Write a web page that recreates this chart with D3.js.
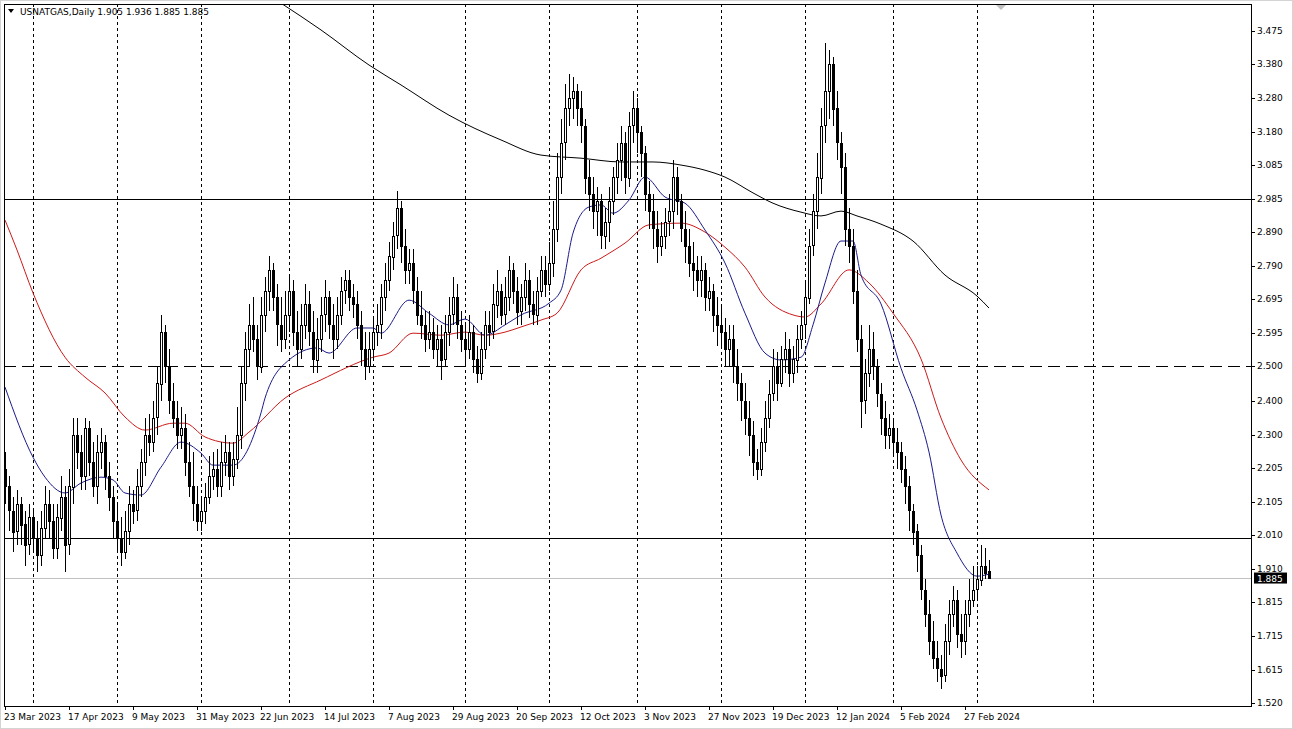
<!DOCTYPE html>
<html><head><meta charset="utf-8">
<script src="https://cdn.jsdelivr.net/npm/d3@7"></script>
<style>
body{margin:0;background:#fff;}
text{font-family:Tahoma,"DejaVu Sans",sans-serif;font-size:9px;fill:#000;}
</style></head>
<body><svg id="chart" width="1293" height="729"></svg>
<script>
// daily candles, one per trading day from 23 Mar 2023 to 7 Mar 2024
var opens = [2.20,2.15,2.08,2.02,2.10,2.04,1.98,2.06,2.00,1.95,2.03,2.10,2.05,1.97,2.06,2.12,
1.98,2.15,2.30,2.25,2.18,2.32,2.22,2.15,2.25,2.28,2.18, 2.12,2.05,2.00,1.96,
2.02,2.10,2.08,2.15,2.22,2.30,2.28,2.35,2.45, 2.60,2.50,2.40,2.35,2.30,2.32,2.22,2.15,2.10,2.05,
2.08,2.12,2.18,2.20,2.15,2.22,2.25,2.18,2.23, 2.30,2.45,2.55,2.62,2.58,2.50,2.65,2.72,
2.78,2.70,2.62,2.58,2.65,2.72,2.60,2.55,2.62,2.68,2.60,2.52,2.58,2.65,2.70,
2.62,2.58,2.65,2.72,2.75,2.70,2.68,2.62,2.55,2.50, 2.55,2.60,2.62,2.70,2.75,2.82,2.88,
2.96,2.85,2.78,2.80,2.72,2.65,2.62,2.58,2.60,2.55, 2.58,2.52,2.60,2.65,2.70,2.62,2.58,2.55,2.60,2.52,
2.48,2.55,2.62,2.60,2.68,2.72,2.65,2.70,2.78,2.72,2.66,2.70,2.75,2.68,2.65,2.72,2.78,2.74,
2.80,2.90,3.05,3.15,3.25,3.28,3.30, 3.25,3.20,3.05,3.00,2.95,2.98,2.88,2.92,
2.98,3.05,3.10,3.15,3.05,3.20,3.25, 3.18,3.12,3.00,2.95,2.90,2.85,2.88,2.92,
2.95,3.05,2.98,2.90,2.85,2.80,2.78, 2.75,2.78,2.70,2.72,2.65,2.62,2.60,2.55,2.58,2.50,
2.45,2.40,2.35,2.30,2.22,2.20,2.28, 2.35,2.42,2.50,2.45,2.52,2.55,2.48,2.52,2.58,
2.62,2.70,2.85,2.95,3.05,3.20,3.30,3.38, 3.25,3.15,3.08,2.90,2.85,2.72, 2.58,2.40,2.48,2.55,
2.50,2.42,2.35,2.30,2.32,2.28,2.25,2.20,2.15,2.08, 2.02,1.95,1.85,1.78,1.70,1.65,1.62,
1.60,1.70,1.78,1.82,1.72,1.70,1.78,1.82, 1.85,1.88,1.92,1.905];
var highs = [2.25,2.18,2.12,2.14,2.12,2.08,2.10,2.08,2.05,2.08,2.15,2.14,2.10,2.10,2.18,2.15,
2.20,2.35,2.35,2.30,2.35,2.34,2.28,2.30,2.32,2.30,2.22, 2.15,2.10,2.06,2.08,
2.15,2.14,2.20,2.26,2.35,2.36,2.40,2.50,2.65, 2.62,2.55,2.45,2.40,2.38,2.36,2.28,2.25,2.15,2.12,
2.16,2.24,2.25,2.26,2.28,2.30,2.28,2.28,2.38, 2.50,2.60,2.68,2.70,2.62,2.70,2.76,2.82,
2.80,2.74,2.70,2.72,2.76,2.75,2.66,2.68,2.74,2.72,2.66,2.64,2.70,2.75,2.72,
2.68,2.70,2.76,2.78,2.78,2.74,2.72,2.66,2.60,2.60, 2.64,2.68,2.74,2.80,2.86,2.92,3.01,
2.98,2.90,2.84,2.84,2.76,2.72,2.66,2.66,2.64,2.62, 2.62,2.65,2.70,2.76,2.74,2.66,2.62,2.65,2.62,2.56,
2.60,2.66,2.66,2.74,2.78,2.74,2.76,2.82,2.80,2.76,2.74,2.80,2.78,2.72,2.76,2.82,2.82,2.86,
2.98,3.12,3.22,3.32,3.35,3.34,3.32, 3.30,3.22,3.10,3.05,3.02,3.00,2.96,3.02,
3.08,3.15,3.20,3.18,3.24,3.30,3.28, 3.20,3.14,3.04,3.00,2.95,2.92,2.96,3.00,
3.10,3.08,3.00,2.95,2.90,2.86,2.82, 2.82,2.80,2.76,2.74,2.70,2.68,2.64,2.62,2.62,2.55,
2.48,2.45,2.40,2.34,2.26,2.32,2.40, 2.46,2.55,2.54,2.56,2.60,2.58,2.56,2.62,2.66,
2.75,2.90,3.00,3.12,3.25,3.44,3.42,3.40, 3.30,3.18,3.12,2.96,2.90,2.78, 2.62,2.52,2.62,2.60,
2.52,2.45,2.40,2.36,2.35,2.32,2.28,2.24,2.18,2.10, 2.04,1.98,1.88,1.82,1.76,1.70,1.66,
1.75,1.82,1.86,1.85,1.78,1.82,1.88,1.92, 1.92,1.98,1.97,1.936];
var lows = [2.10,2.02,1.96,1.98,1.98,1.92,1.95,1.96,1.90,1.92,2.00,2.00,1.94,1.94,2.02,1.90,
1.95,2.10,2.20,2.14,2.14,2.18,2.12,2.10,2.20,2.14,2.08, 2.00,1.96,1.92,1.94,
1.98,2.04,2.05,2.12,2.18,2.24,2.25,2.30,2.40, 2.45,2.36,2.32,2.26,2.26,2.18,2.12,2.05,2.02,2.02,
2.04,2.10,2.14,2.12,2.12,2.18,2.14,2.15,2.20, 2.26,2.40,2.50,2.54,2.46,2.48,2.60,2.66,
2.66,2.56,2.54,2.55,2.60,2.56,2.50,2.52,2.58,2.56,2.48,2.48,2.54,2.60,2.58,
2.52,2.55,2.62,2.68,2.66,2.64,2.58,2.50,2.46,2.48, 2.52,2.56,2.58,2.66,2.72,2.78,2.84,
2.80,2.74,2.74,2.68,2.62,2.58,2.54,2.55,2.52,2.50, 2.46,2.50,2.56,2.62,2.58,2.54,2.50,2.52,2.48,2.45,
2.46,2.52,2.56,2.58,2.64,2.62,2.62,2.66,2.68,2.62,2.62,2.66,2.64,2.62,2.62,2.70,2.70,2.72,
2.76,2.86,3.00,3.10,3.20,3.22,3.20, 3.15,3.00,2.95,2.90,2.88,2.84,2.84,2.86,
2.94,3.00,3.04,3.00,3.02,3.15,3.12, 3.05,2.95,2.90,2.84,2.80,2.82,2.84,2.88,
2.90,2.94,2.86,2.80,2.76,2.72,2.70, 2.70,2.66,2.66,2.60,2.56,2.55,2.50,2.50,2.45,2.40,
2.34,2.30,2.24,2.18,2.17,2.18,2.25, 2.32,2.40,2.40,2.44,2.48,2.44,2.45,2.48,2.55,
2.58,2.68,2.82,2.90,3.00,3.15,3.22,3.20, 3.10,3.00,2.85,2.80,2.68,2.54, 2.32,2.36,2.44,2.46,
2.38,2.30,2.26,2.26,2.24,2.20,2.16,2.10,2.02,1.98, 1.90,1.82,1.74,1.66,1.62,1.58,1.56,
1.58,1.66,1.74,1.68,1.65,1.66,1.74,1.80, 1.82,1.86,1.88,1.885];
var closes = [2.15,2.08,2.02,2.10,2.04,1.98,2.06,2.00,1.95,2.03,2.10,2.05,1.97,2.06,2.12,1.98,
2.15,2.30,2.25,2.18,2.32,2.22,2.15,2.25,2.28,2.18,2.12, 2.05,2.00,1.96,2.02,
2.10,2.08,2.15,2.22,2.30,2.28,2.35,2.45,2.60, 2.50,2.40,2.35,2.30,2.32,2.22,2.15,2.10,2.05,2.08,
2.12,2.18,2.20,2.15,2.22,2.25,2.18,2.23,2.30, 2.45,2.55,2.62,2.58,2.50,2.65,2.72,2.78,
2.70,2.62,2.58,2.65,2.72,2.60,2.55,2.62,2.68,2.60,2.52,2.58,2.65,2.70,2.62,
2.58,2.65,2.72,2.75,2.70,2.68,2.62,2.55,2.50,2.55, 2.60,2.62,2.70,2.75,2.82,2.88,2.96,
2.85,2.78,2.80,2.72,2.65,2.62,2.58,2.60,2.55,2.58, 2.52,2.60,2.65,2.70,2.62,2.58,2.55,2.60,2.52,2.48,
2.55,2.62,2.60,2.68,2.72,2.65,2.70,2.78,2.72,2.66,2.70,2.75,2.68,2.65,2.72,2.78,2.74,2.80,
2.90,3.05,3.15,3.25,3.28,3.30,3.25, 3.20,3.05,3.00,2.95,2.98,2.88,2.92,2.98,
3.05,3.10,3.15,3.05,3.20,3.25,3.18, 3.12,3.00,2.95,2.90,2.85,2.88,2.92,2.95,
3.05,2.98,2.90,2.85,2.80,2.78,2.75, 2.78,2.70,2.72,2.65,2.62,2.60,2.55,2.58,2.50,2.45,
2.40,2.35,2.30,2.22,2.20,2.28,2.35, 2.42,2.50,2.45,2.52,2.55,2.48,2.52,2.58,2.62,
2.70,2.85,2.95,3.05,3.20,3.30,3.38,3.25, 3.15,3.08,2.90,2.85,2.72,2.58, 2.40,2.48,2.55,2.50,
2.42,2.35,2.30,2.32,2.28,2.25,2.20,2.15,2.08,2.02, 1.95,1.85,1.78,1.70,1.65,1.62,1.60,
1.70,1.78,1.82,1.72,1.70,1.78,1.82,1.85, 1.88,1.92,1.90,1.885];

// moving averages: [bar, value]
var maFast = [[0,2.439],[7,2.235],[10,2.177],[15,2.131],[19,2.160],[24,2.177],[27,2.169],[30,2.131],[34,2.125],
[39,2.206],[44,2.279],[49,2.247],[52,2.212],[57,2.212],[64,2.364],[65,2.407],[71,2.518],[78,2.553],[81,2.538],
[88,2.611],[92,2.611],[94,2.596],[101,2.692],[106,2.654],[111,2.620],[115,2.637],[120,2.590],[125,2.620],
[129,2.649],[136,2.683],[139,2.721],[142,2.887],[146,2.963],[149,2.969],[152,2.945],[156,2.983],[160,3.050],
[165,2.992],[170,2.974],[175,2.896],[180,2.800],[185,2.654],[190,2.538],[194,2.518],[199,2.526],[202,2.620],
[205,2.742],[209,2.864],[212,2.864],[214,2.765],[219,2.681],[224,2.494],[228,2.372],[231,2.250],[234,2.067],
[238,1.956],[243,1.889],[246,1.895]];
var maMid = [[0,2.925],[3,2.838],[7,2.713],[15,2.526],[20,2.468],[25,2.422],[30,2.352],[35,2.314],[42,2.334],
[45,2.334],[50,2.294],[57,2.276],[61,2.308],[70,2.407],[79,2.460],[92,2.526],[96,2.538],[102,2.596],[109,2.590],
[115,2.599],[120,2.590],[125,2.599],[129,2.614],[134,2.634],[138,2.654],[144,2.780],[149,2.814],[155,2.858],
[161,2.911],[169,2.916],[175,2.890],[180,2.846],[185,2.788],[190,2.701],[197,2.649],[200,2.643],[204,2.681],
[211,2.780],[216,2.742],[222,2.654],[229,2.521],[234,2.349],[239,2.227],[246,2.140]];
var maSlow = [[69,3.556],[79,3.478],[91,3.376],[99,3.318],[111,3.230],[124,3.158],[134,3.114],[144,3.105],
[154,3.094],[162,3.094],[169,3.085],[175,3.070],[180,3.050],[187,3.004],[192,2.974],[199,2.948],[204,2.937],
[209,2.951],[213,2.937],[219,2.913],[227,2.864],[235,2.765],[243,2.704],[246,2.669]];

var priceTicks = [3.475,3.380,3.280,3.180,3.085,2.985,2.890,2.790,2.695,2.595,2.500,2.400,2.300,2.205,2.105,2.010,1.910,1.815,1.715,1.615,1.520];
var dateLabels = ["23 Mar 2023","17 Apr 2023","9 May 2023","31 May 2023","22 Jun 2023","14 Jul 2023","7 Aug 2023","29 Aug 2023",
"20 Sep 2023","12 Oct 2023","3 Nov 2023","27 Nov 2023","19 Dec 2023","12 Jan 2024","5 Feb 2024","27 Feb 2024"];
var monthStartBars = [7,28,49,71,92,115,136,158,179,200,222,243,272];
var solidLevels = [2.985, 2.000];
var dashedLevels = [2.500];
var lastPrice = 1.885;

var svg = d3.select("#chart");
var pLeft = 4, pRight = 1251, pTop = 4, pBottom = 706;

var x = d3.scaleLinear().domain([0, 1]).range([5, 9]); // 4px per bar
var y = d3.scaleLinear().domain([1.520, 3.475]).range([703, 31]);

svg.append("defs").append("clipPath").attr("id","clip")
  .append("rect").attr("x",pLeft).attr("y",pTop).attr("width",pRight-pLeft).attr("height",pBottom-pTop);

var plot = svg.append("g").attr("clip-path","url(#clip)");

// month grid
plot.selectAll("line.grid").data(monthStartBars).enter().append("line")
  .attr("x1", d => Math.round(x(d))+0.5).attr("x2", d => Math.round(x(d))+0.5)
  .attr("y1", pTop).attr("y2", pBottom)
  .attr("stroke","#000").attr("stroke-dasharray","3,3").attr("stroke-width",1);

// horizontal levels
plot.selectAll("line.solid").data(solidLevels).enter().append("line")
  .attr("x1",pLeft).attr("x2",pRight).attr("y1",d => Math.round(y(d))+0.5).attr("y2",d => Math.round(y(d))+0.5)
  .attr("stroke","#000");
plot.selectAll("line.dash").data(dashedLevels).enter().append("line")
  .attr("x1",pLeft).attr("x2",pRight).attr("y1",d => Math.round(y(d))+0.5).attr("y2",d => Math.round(y(d))+0.5)
  .attr("stroke","#000").attr("stroke-dasharray","12,6");
plot.append("line").attr("x1",pLeft).attr("x2",pRight)
  .attr("y1",Math.round(y(lastPrice))+0.5).attr("y2",Math.round(y(lastPrice))+0.5)
  .attr("stroke","#c0c0c0");

// moving averages
var maLine = d3.line().x(d => x(d[0])).y(d => y(d[1])).curve(d3.curveMonotoneX);
plot.append("path").attr("d", maLine(maSlow)).attr("fill","none").attr("stroke","#000").attr("stroke-width",1);
plot.append("path").attr("d", maLine(maMid)).attr("fill","none").attr("stroke","#cc1a1a").attr("stroke-width",1);
plot.append("path").attr("d", maLine(maFast)).attr("fill","none").attr("stroke","#1a1a8c").attr("stroke-width",1);

// candles
var bars = d3.range(closes.length);
var g = plot.selectAll("g.candle").data(bars).enter().append("g").attr("shape-rendering","crispEdges");
g.append("line")
  .attr("x1", i => Math.round(x(i))+0.5).attr("x2", i => Math.round(x(i))+0.5)
  .attr("y1", i => y(highs[i])).attr("y2", i => y(lows[i]))
  .attr("stroke","#000");
g.append("rect")
  .attr("x", i => Math.round(x(i))-0.5)
  .attr("width", 2)
  .attr("y", i => Math.round(y(Math.max(opens[i],closes[i])))+0.5)
  .attr("height", i => Math.max(1, Math.round(Math.abs(y(opens[i])-y(closes[i])))))
  .attr("fill", i => closes[i] >= opens[i] ? "#fff" : "#000")
  .attr("stroke","#000");

// frame
svg.append("rect").attr("x",pLeft+0.5).attr("y",pTop+0.5).attr("width",pRight-pLeft).attr("height",pBottom-pTop)
  .attr("fill","none").attr("stroke","#000").attr("shape-rendering","crispEdges");
svg.append("rect").attr("x",0.5).attr("y",0.5).attr("width",1292).attr("height",728)
  .attr("fill","none").attr("stroke","#d4d4d4");

// price axis
var ax = svg.append("g");
ax.selectAll("line").data(priceTicks).enter().append("line")
  .attr("x1",pRight).attr("x2",pRight+4).attr("y1",d => Math.round(y(d))+0.5).attr("y2",d => Math.round(y(d))+0.5).attr("stroke","#000");
ax.selectAll("text").data(priceTicks).enter().append("text")
  .attr("x",pRight+6).attr("y",d => y(d)+3).text(d => d.toFixed(3));
svg.append("rect").attr("x",pRight+3).attr("y",y(lastPrice)-5).attr("width",33).attr("height",11).attr("fill","#000");
svg.append("text").attr("x",pRight+6).attr("y",y(lastPrice)+4).style("fill","#fff").text(lastPrice.toFixed(3));

// time axis
var tx = svg.append("g");
tx.selectAll("line").data(dateLabels).enter().append("line")
  .attr("x1",(d,i) => Math.round(x(i*16))+0.5).attr("x2",(d,i) => Math.round(x(i*16))+0.5)
  .attr("y1",pBottom).attr("y2",pBottom+4).attr("stroke","#000");
tx.selectAll("text").data(dateLabels).enter().append("text")
  .attr("x",(d,i) => x(i*16)-1).attr("y",pBottom+14).text(d => d);

// header
svg.append("path").attr("d","M8,9 L14,9 L11,13 Z").attr("fill","#000");
svg.append("text").attr("x",20).attr("y",15).text("USNATGAS,Daily  1.905 1.936 1.885 1.885");
svg.append("path").attr("d","M996,5 L1006,5 L1001,10 Z").attr("fill","#c0c0c0");
</script></body></html>
